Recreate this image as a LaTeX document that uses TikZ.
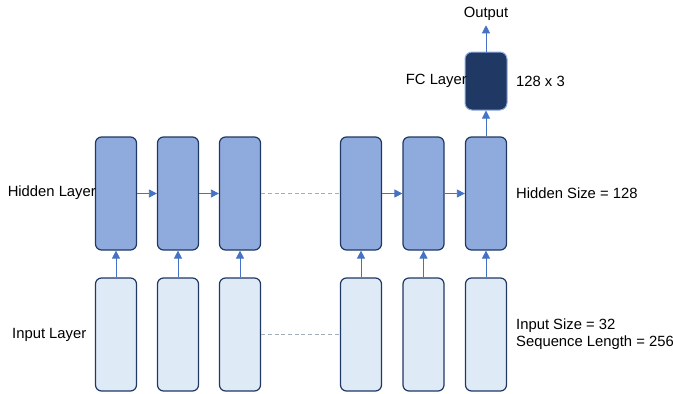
\documentclass[tikz,border=0pt]{standalone}
\usepackage{fontspec}
\setmainfont{Liberation Sans}
\usetikzlibrary{arrows.meta}
\definecolor{hidfill}{HTML}{8FAADC}
\definecolor{infill}{HTML}{DEEBF7}
\definecolor{boxline}{HTML}{1F3864}
\definecolor{fcfill}{HTML}{203864}
\definecolor{arrowblue}{HTML}{4472C4}
\definecolor{dashgrey}{HTML}{A3AEBB}
\tikzset{
  cell/.style={draw=boxline, line width=1.2pt, rounded corners=6pt,
    minimum width=41pt, minimum height=113pt, inner sep=0pt},
  hid/.style={cell, fill=hidfill},
  inp/.style={cell, fill=infill},
  fcbox/.style={draw=hidfill, line width=1pt, fill=fcfill, rounded corners=7pt,
    minimum width=42pt, minimum height=58pt, inner sep=0pt},
  arr/.style={draw=arrowblue, line width=0.8pt, -{Triangle[length=8pt,width=8pt]}},
  gap/.style={draw=dashgrey, line width=1.4pt, dash pattern=on 4pt off 2.7pt},
  lbl/.style={font=\fontsize{14.8pt}{17pt}\selectfont, inner sep=0pt}
}
\begin{document}
\begin{tikzpicture}[x=1pt,y=-1pt]
\useasboundingbox (0,0) rectangle (673,394);

% hidden layer cells
\node[hid] (h1) at (116,193.5) {};
\node[hid] (h2) at (178,193.5) {};
\node[hid] (h3) at (240,193.5) {};
\node[hid] (h4) at (361,193.5) {};
\node[hid] (h5) at (423.5,193.5) {};
\node[hid] (h6) at (486,193.5) {};

% input layer cells
\node[inp] (i1) at (116,334.5) {};
\node[inp] (i2) at (178,334.5) {};
\node[inp] (i3) at (240,334.5) {};
\node[inp] (i4) at (361,334.5) {};
\node[inp] (i5) at (423.5,334.5) {};
\node[inp] (i6) at (486,334.5) {};

% fully connected layer and output
\node[fcbox] (fc) at (486,81) {};
\node[lbl, anchor=base] (out) at (486,17.5) {Output};

% recurrent connections
\draw[arr] (h1) -- (h2);
\draw[arr] (h2) -- (h3);
\draw[arr] (h4) -- (h5);
\draw[arr] (h5) -- (h6);
\draw[gap] (h3.east) -- (h4.west);
\draw[gap] (i3.east) -- (i4.west);

% input to hidden
\foreach \k in {1,...,6}{
  \draw[arr] (i\k.north) -- (h\k.south);
}
\draw[arr] (h6.north) -- (fc.south);
\draw[arr, shorten >=4.5pt] (fc.north) -- (out.south);

% labels
\node[lbl, anchor=east] (lhid) at (96,193) {Hidden Layer};
\node[lbl, anchor=west] (linp) at (12,335) {Input Layer};
\node[lbl, anchor=east] (lfc) at (467,81) {FC Layer};
\node[lbl, anchor=west] (lfcsize) at (516,81) {128 x 3};
\node[lbl, anchor=west] (lhsize) at (516,193) {Hidden Size = 128};
\node[lbl, anchor=west, align=left] (lisize) at (516,334.5) {Input Size = 32\\Sequence Length = 256};
\end{tikzpicture}
\end{document}
